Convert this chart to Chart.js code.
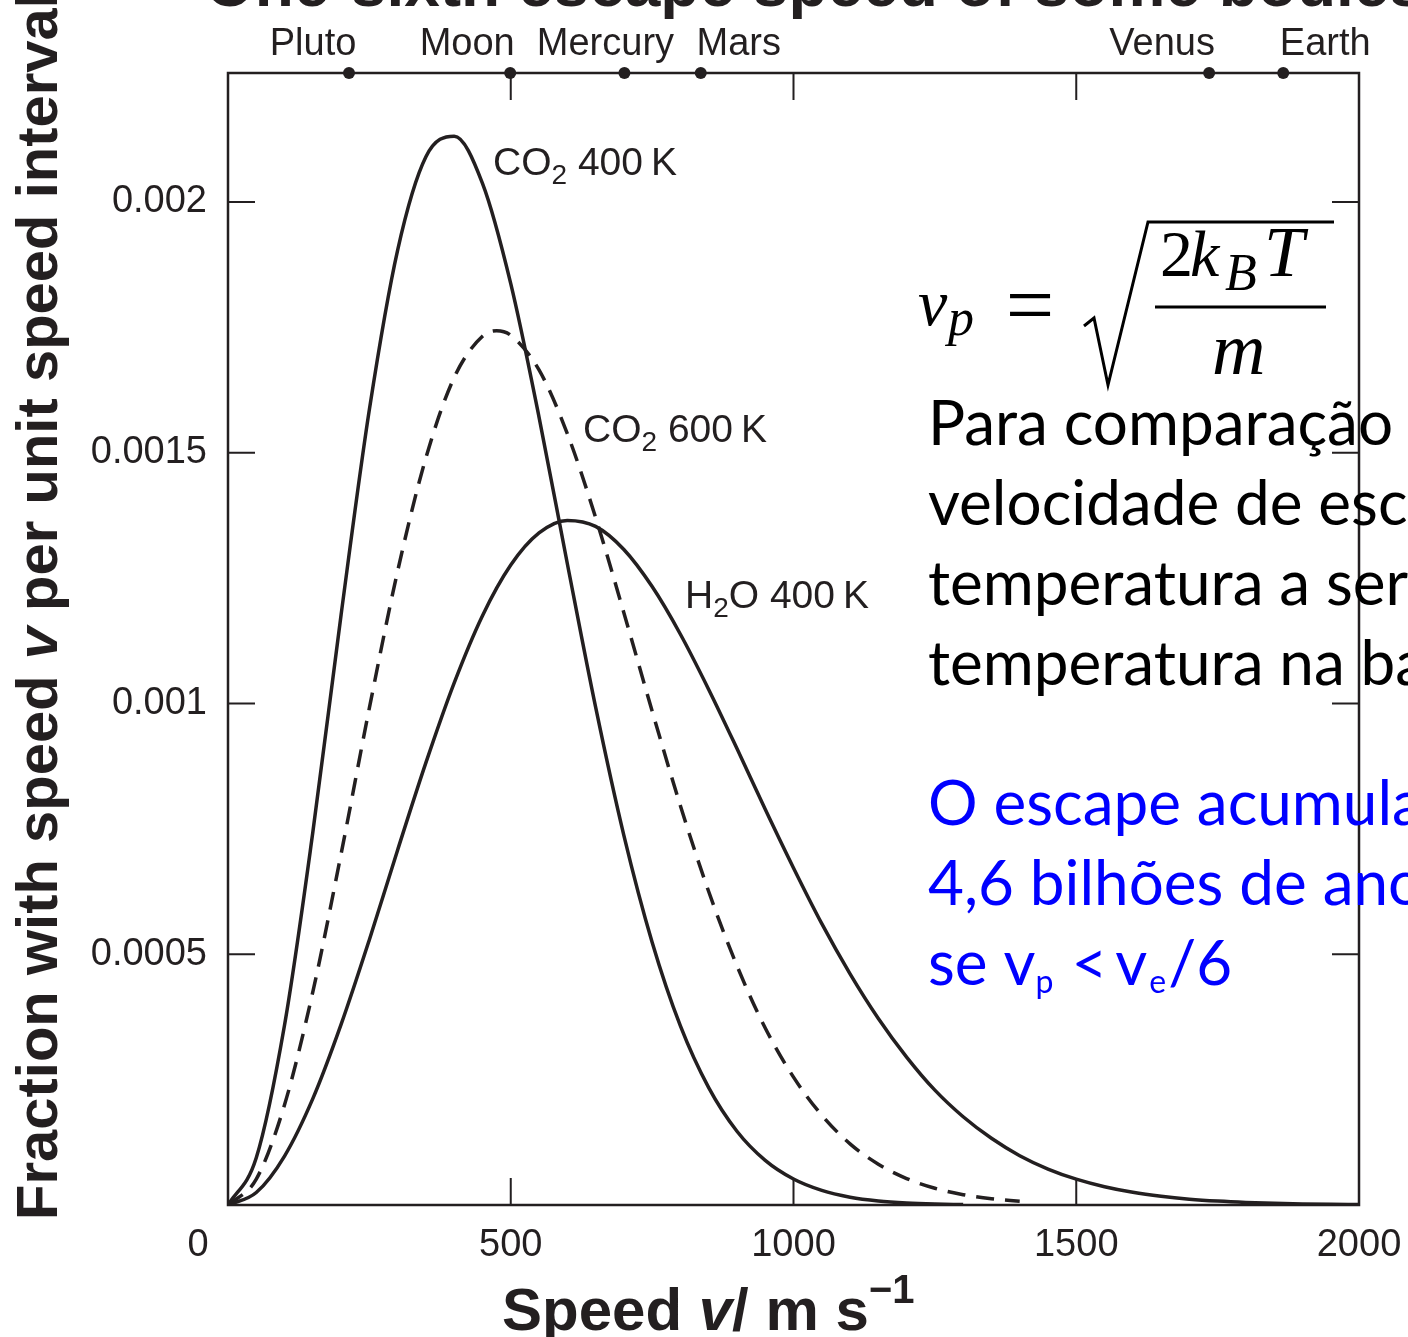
<!DOCTYPE html>
<html>
<head>
<meta charset="utf-8">
<title>Maxwell speed distributions</title>
<script src="https://cdn.jsdelivr.net/npm/chart.js@4.4.1/dist/chart.umd.min.js"></script>
<style>
  html, body { margin: 0; padding: 0; background: #fff; }
  canvas { display: block; }
</style>
</head>
<body>
<canvas id="speedChart" width="1408" height="1337"></canvas>
<script>
// speed grid, m/s
const speeds = [0, 50, 100, 150, 200, 250, 300, 350, 400, 450, 500, 550, 600, 650, 700, 750, 800, 850, 900, 950,
  1000, 1050, 1100, 1150, 1200, 1250, 1300, 1350, 1400, 1450, 1500, 1550, 1600, 1650, 1700, 1750, 1800, 1850, 1900, 1950, 2000];
// the dashed curve also has its top read at 475 m/s
const co2At600Speeds = [0, 50, 100, 150, 200, 250, 300, 350, 400, 450, 475, 500, 550, 600, 650, 700, 750, 800, 850, 900,
  950, 1000, 1050, 1100, 1150, 1200, 1250, 1300, 1350, 1400];

// fraction per unit speed interval
const co2At400 = [0, 0.0000943, 0.000359, 0.000743, 0.001177, 0.001586, 0.001904, 0.002090, 0.002131, 0.002037,
  0.001837, 0.001571, 0.001279, 0.000993, 0.000737, 0.000524, 0.000357, 0.000234, 0.000147, 0.0000889,
  0.0000517, 0.0000290, 0.0000156, 0.0000081, 0.0000041, 0.0000020, 0.0000009];
const co2At600 = [0, 0.0000516, 0.000200, 0.000425, 0.000700, 0.000991, 0.001264, 0.001490, 0.001650, 0.001732, 0.001743,
  0.001734, 0.001665, 0.001538, 0.001371, 0.001181, 0.000985, 0.000796, 0.000625, 0.000477, 0.000353,
  0.000255, 0.000179, 0.000122, 0.0000813, 0.0000528, 0.0000334, 0.0000206, 0.0000124, 0.0000073];
const h2oAt400 = [0, 0.0000249, 0.0000976, 0.000212, 0.000360, 0.000529, 0.000708, 0.000882, 0.001041, 0.001175,
  0.001276, 0.001340, 0.001365, 0.001353, 0.001307, 0.001233, 0.001138, 0.001028, 0.000910, 0.000789,
  0.000672, 0.000561, 0.000461, 0.000372, 0.000295, 0.000229, 0.000176, 0.000133, 0.0000983, 0.0000717,
  0.0000515, 0.0000364, 0.0000253, 0.0000174, 0.0000117, 0.0000078, 0.0000051, 0.0000033, 0.0000021, 0.0000013, 0.0000008];

// one-sixth escape speeds (top axis)
const bodyNames = ['Pluto', 'Moon', 'Mercury', 'Mars', 'Venus', 'Earth'];
const bodySpeeds = [214, 499, 701, 836, 1735, 1866];

const xTickValues = [0, 500, 1000, 1500, 2000];
const yTickValues = [0.0005, 0.001, 0.0015, 0.002];
const yTickLabels = ['0.0005', '0.001', '0.0015', '0.002'];
const yTop = 0.002257;

const ink = '#231f20';
const sans = '"Liberation Sans", Arial, sans-serif';
const tickFont = 38;
const tickPad = 18;

const pts = (xs, vals) => vals.map((v, i) => ({ x: xs[i], y: v }));

// draw a row of text pieces with different fonts / offsets
function drawRuns(ctx, x, y, parts) {
  parts.forEach(p => {
    if (p.gap) { x += p.gap; return; }
    ctx.font = p.font;
    ctx.fillText(p.t, x, y + (p.dy || 0));
    x += ctx.measureText(p.t).width;
  });
  return x;
}

const framePlugin = {
  id: 'frame',
  beforeDatasetsDraw(chart) {
    const { ctx, chartArea: a, scales: { x, y } } = chart;
    ctx.save();
    ctx.strokeStyle = ink;
    ctx.lineWidth = 2.5;
    ctx.strokeRect(a.left, a.top, a.right - a.left, a.bottom - a.top);
    const tl = 27;
    ctx.lineWidth = 2;
    ctx.beginPath();
    xTickValues.slice(1, -1).forEach(v => {
      const px = x.getPixelForValue(v);
      ctx.moveTo(px, a.bottom); ctx.lineTo(px, a.bottom - tl);
      ctx.moveTo(px, a.top); ctx.lineTo(px, a.top + tl);
    });
    yTickValues.forEach(v => {
      const py = y.getPixelForValue(v);
      ctx.moveTo(a.left, py); ctx.lineTo(a.left + tl, py);
      ctx.moveTo(a.right, py); ctx.lineTo(a.right - tl, py);
    });
    ctx.stroke();
    ctx.restore();
  }
};

const textPlugin = {
  id: 'texts',
  afterDraw(chart) {
    const { ctx, chartArea: a, scales: { x } } = chart;
    ctx.save();
    ctx.fillStyle = ink;
    ctx.textBaseline = 'alphabetic';

    // top title (cut by the page edge)
    ctx.font = 'bold 64px ' + sans;
    ctx.textAlign = 'left';
    ctx.fillText('One-sixth escape speed of some bodies', 205, 6);

    // body names along the top
    const shift = [-36, -43, -19, 38, -47, 42];
    ctx.font = '38px ' + sans;
    ctx.textAlign = 'center';
    bodyNames.forEach((n, i) => {
      ctx.fillText(n, x.getPixelForValue(bodySpeeds[i]) + shift[i], 55);
    });

    // origin label, offset to the left
    ctx.textBaseline = 'middle';
    ctx.font = tickFont + 'px ' + sans;
    ctx.fillText('0', 198, a.bottom + tickPad + tickFont * 0.6);
    ctx.textBaseline = 'alphabetic';
    ctx.textAlign = 'left';

    // axis titles
    const b = 'bold 58px ' + sans;
    const bi = 'italic bold 58px ' + sans;
    drawRuns(ctx, 502, 1330, [
      { t: 'Speed ', font: 'bold 60px ' + sans },
      { t: 'v', font: 'italic bold 60px ' + sans },
      { t: '/ m s', font: 'bold 60px ' + sans },
      { t: '\u22121', font: 'bold 40px ' + sans, dy: -27 }
    ]);
    ctx.save();
    ctx.translate(57, 1220);
    ctx.rotate(-Math.PI / 2);
    drawRuns(ctx, 0, 0, [
      { t: 'Fraction with speed ', font: b },
      { t: 'v', font: bi },
      { t: ' per unit speed interval', font: b }
    ]);
    ctx.restore();

    // curve labels
    const lf = '39px ' + sans;
    const sf = '28px ' + sans;
    drawRuns(ctx, 493, 175, [{ t: 'CO', font: lf }, { t: '2', font: sf, dy: 9 }, { t: ' 400', font: lf }, { gap: 8 }, { t: 'K', font: lf }]);
    drawRuns(ctx, 583, 442, [{ t: 'CO', font: lf }, { t: '2', font: sf, dy: 9 }, { t: ' 600', font: lf }, { gap: 8 }, { t: 'K', font: lf }]);
    drawRuns(ctx, 685, 608, [{ t: 'H', font: lf }, { t: '2', font: sf, dy: 9 }, { t: 'O 400', font: lf }, { gap: 8 }, { t: 'K', font: lf }]);

    // formula v_p = sqrt(2 k_B T / m)
    ctx.fillStyle = '#000';
    const mi = 'italic 66px "Liberation Serif", serif';
    const ms = 'italic 52px "Liberation Serif", serif';
    ctx.font = mi; ctx.fillText('v', 918, 325);
    ctx.font = ms; ctx.fillText('p', 948, 335);
    ctx.font = '86px "Liberation Serif", serif';
    ctx.textAlign = 'center';
    ctx.fillText('=', 1030, 334);
    ctx.textAlign = 'left';
    ctx.font = '66px "Liberation Serif", serif'; ctx.fillText('2', 1160, 276);
    ctx.font = mi; ctx.fillText('k', 1190, 276);
    ctx.font = ms; ctx.fillText('B', 1225, 290);
    ctx.font = 'italic 72px "Liberation Serif", serif'; ctx.fillText('T', 1264, 276);
    ctx.font = 'italic 74px "Liberation Serif", serif'; ctx.fillText('m', 1212, 374);
    ctx.strokeStyle = '#000';
    ctx.lineWidth = 3;
    ctx.beginPath();
    ctx.moveTo(1155, 307); ctx.lineTo(1326, 307);
    ctx.moveTo(1084, 326); ctx.lineTo(1094, 318); ctx.lineTo(1108, 385); ctx.lineTo(1148, 222); ctx.lineTo(1334, 222);
    ctx.stroke();

    // notes on the right (cut by the page edge)
    ctx.font = '100px Lato';
    const size = Math.round(100 * 337 / ctx.measureText('temperatura').width);
    const nf = size + 'px Lato';
    const nsub = Math.round(size * 0.52) + 'px Lato';
    ctx.font = nf;
    ['Para comparação a', 'velocidade de escape', 'temperatura a ser', 'temperatura na base']
      .forEach((s, i) => ctx.fillText(s, 928, 445 + i * 80));
    ctx.fillStyle = '#0000ff';
    ['O escape acumulado em', '4,6 bilhões de anos é'].forEach((s, i) => ctx.fillText(s, 928, 825 + i * 80));
    drawRuns(ctx, 928, 985, [
      { t: 'se v', font: nf }, { t: 'p', font: nsub, dy: 8 }, { gap: 18 },
      { t: '<', font: nf }, { gap: 8 }, { t: 'v', font: nf }, { gap: 2 },
      { t: 'e', font: nsub, dy: 8 }, { gap: 2 }, { t: '/6', font: nf }
    ]);
    ctx.restore();
  }
};

const lineStyle = {
  showLine: true, borderColor: ink, borderWidth: 3.5, pointRadius: 0,
  cubicInterpolationMode: 'monotone', fill: false
};

new Chart(document.getElementById('speedChart').getContext('2d'), {
  type: 'scatter',
  data: {
    datasets: [
      { label: 'CO2 400 K', data: pts(speeds, co2At400), ...lineStyle },
      { label: 'CO2 600 K', data: pts(co2At600Speeds, co2At600), ...lineStyle, borderDash: [18, 11] },
      { label: 'H2O 400 K', data: pts(speeds, h2oAt400), ...lineStyle },
      {
        label: 'bodies', data: bodySpeeds.map(s => ({ x: s, y: yTop })),
        pointRadius: 6, pointBackgroundColor: ink, pointBorderWidth: 0, clip: false
      }
    ]
  },
  options: {
    responsive: false,
    animation: false,
    layout: { padding: { top: 73, right: 49, left: 0, bottom: 0 } },
    plugins: { legend: { display: false }, tooltip: { enabled: false } },
    scales: {
      x: {
        type: 'linear', min: 0, max: 2000,
        afterFit: s => { s.height = 132; s.paddingLeft = 0; s.paddingRight = 0; },
        afterBuildTicks: s => { s.ticks = xTickValues.map(v => ({ value: v })); },
        grid: { display: false, drawTicks: false },
        border: { display: false },
        ticks: {
          padding: tickPad, color: ink, maxRotation: 0, autoSkip: false,
          font: { family: sans, size: tickFont },
          callback: v => (v === 0 ? '' : String(v))
        }
      },
      y: {
        min: 0, max: yTop,
        afterFit: s => { s.width = 228; },
        afterBuildTicks: s => { s.ticks = yTickValues.map(v => ({ value: v })); },
        grid: { display: false, drawTicks: false },
        border: { display: false },
        ticks: {
          padding: 21, color: ink, autoSkip: false,
          font: { family: sans, size: tickFont },
          callback: (v, i) => yTickLabels[i]
        }
      }
    }
  },
  plugins: [framePlugin, textPlugin]
});
</script>
</body>
</html>
